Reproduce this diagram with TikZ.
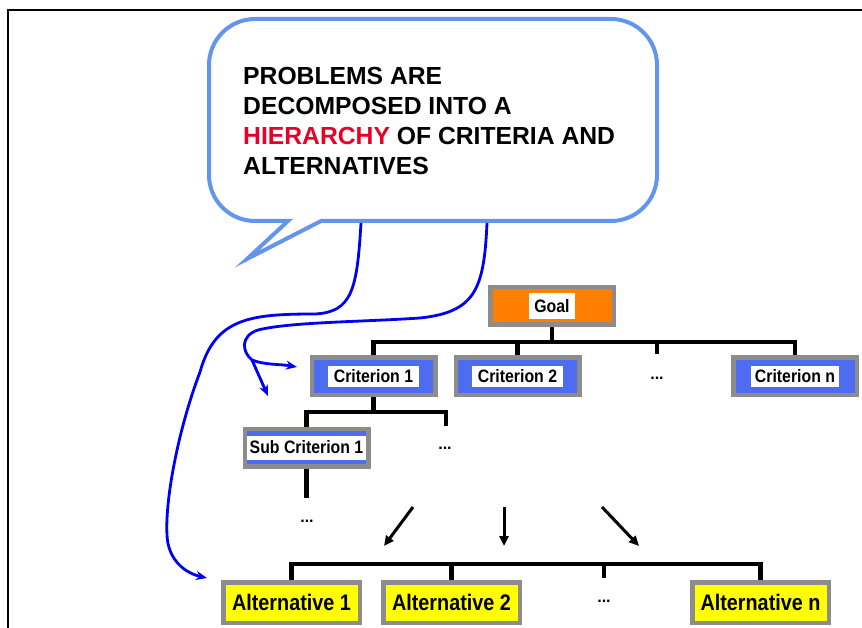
\documentclass[tikz,border=0pt]{standalone}
\usepackage{fontspec}
\setmainfont{Liberation Sans}
\newfontfamily\narrowsans{Liberation Sans}[FakeStretch=0.88]
\usetikzlibrary{arrows.meta}

\definecolor{boxgray}{RGB}{140,140,140}
\definecolor{critblue}{RGB}{78,108,240}
\definecolor{goalorange}{RGB}{255,128,0}
\definecolor{altyellow}{RGB}{255,255,0}
\definecolor{bubbleblue}{RGB}{100,149,237}
\definecolor{linkblue}{RGB}{0,0,245}
\definecolor{hierred}{RGB}{232,0,40}

\newcommand\tagfont{\narrowsans\bfseries\fontsize{18}{21}\selectfont}
\newcommand\dotfont{\bfseries\fontsize{16}{19}\selectfont}
\newcommand\altfont{\narrowsans\bfseries\fontsize{22.5}{26}\selectfont}
\newcommand\bubblefont{\bfseries\fontsize{24.7}{30}\selectfont}

\begin{document}
\begin{tikzpicture}[x=1pt,y=-1pt,
  boxframe/.style={draw=boxgray, line width=4.5pt, inner sep=0pt},
  goalbox/.style={boxframe, fill=goalorange, minimum width=123.5pt, minimum height=37.5pt},
  critbox/.style={boxframe, fill=critblue, minimum width=123.5pt, minimum height=37.5pt},
  altbox/.style={boxframe, fill=altyellow, minimum width=136.5pt, minimum height=40.5pt, font=\altfont},
  tag/.style={fill=white, inner sep=0pt, inner xsep=6pt, minimum height=21pt, font=\tagfont},
  dots/.style={font=\dotfont, inner sep=0pt, anchor=base},
  tree/.style={line width=4.5pt},
  pointer/.style={line width=3pt, -{Triangle[length=10pt,width=9pt]}},
  link/.style={draw=linkblue, line width=2.8pt, -{Stealth[length=11pt,width=9pt]}},
  line/.style={anchor=base west, inner sep=0pt, font=\bubblefont}
]
\useasboundingbox (0,0) rectangle (862,628);

% outer frame (top and left edges)
\draw[line width=2pt] (8,628) -- (8,10) -- (862,10);

% speech bubble with its tail
\draw[draw=bubbleblue, fill=white, line width=4pt, line join=miter]
  (288,221) -- (247,259) -- (321,221) -- (611,221)
  .. controls (636.4,221) and (657,200.4) .. (657,175)
  -- (657,65)
  .. controls (657,39.6) and (636.4,19) .. (611,19)
  -- (255,19)
  .. controls (229.6,19) and (209,39.6) .. (209,65)
  -- (209,175)
  .. controls (209,200.4) and (229.6,221) .. (255,221)
  -- cycle;

\node[line] (l1) at (243,85)  {PROBLEMS ARE};
\node[line] (l2) at (243,115) {DECOMPOSED INTO A};
\node[line] (l3) at (243,145) {\textcolor{hierred}{HIERARCHY} OF CRITERIA AND};
\node[line] (l4) at (243,175) {ALTERNATIVES};

% goal
\node[goalbox] (goal) at (552,306) {};
\node[tag, inner xsep=5pt, minimum height=26pt] (goalt) at (goal) {Goal};

% criteria
\node[critbox] (c1) at (373.5,376) {};
\node[tag] (c1t) at (c1) {Criterion 1};
\node[critbox] (c2) at (517.5,376) {};
\node[tag] (c2t) at (c2) {Criterion 2};
\node[dots] (cdots) at (657,379) {...};
\node[critbox] (cn) at (795,376) {};
\node[tag, inner xsep=4pt] (cnt) at (cn) {Criterion n};

% sub criteria
\node[critbox] (sub) at (306.5,447.5) {};
\node[tag, inner xsep=2.5pt, minimum height=24pt] (subt) at (sub) {Sub Criterion 1};
\node[dots] (sdots) at (445,449) {...};
\node[dots] (ldots) at (307,522) {...};

% alternatives
\node[altbox] (a1) at (291.5,602.5) {Alternative 1};
\node[altbox] (a2) at (451.5,602.5) {Alternative 2};
\node[dots] (adots) at (604,602) {...};
\node[altbox] (an) at (760.5,602.5) {Alternative n};

% hierarchy connectors
\draw[tree] (goal.south) -- ++(0,15) coordinate (gb);
\draw[tree] (c1.north) |- (gb) -| (cn.north);
\draw[tree] (gb -| c2.north) -- (c2.north);
\draw[tree] (gb -| cdots) -- ++(0,12);

\coordinate (sdrop) at (446,426);
\draw[tree] (c1.south) -- ++(0,15) coordinate (cb);
\draw[tree] (sub.north) |- (cb) -| (sdrop);
\draw[tree] (sub.south) -- ++(0,29);

\draw[tree] (a1.north) -- ++(0,-16) coordinate (ab) -| (an.north);
\draw[tree] (ab -| a2.north) -- (a2.north);
\draw[tree] (ab -| adots) -- ++(0,14);

% arrows down to the alternatives
\coordinate (p1s) at (413,507); \coordinate (p1e) at (384,546);
\coordinate (p2s) at (504,507); \coordinate (p2e) at (504,546);
\coordinate (p3s) at (602,507); \coordinate (p3e) at (639,546);
\draw[pointer] (p1s) -- (p1e);
\draw[pointer] (p2s) -- (p2e);
\draw[pointer] (p3s) -- (p3e);

% links from the bubble
\coordinate (ba) at (361,223);
\coordinate (bb) at (487,223);
\coordinate (altin) at (207,578);
\coordinate (critin) at (297,367);
\coordinate (critlow) at (268,396);

\draw[link] (ba) .. controls (357,290) and (352,312) .. (315,314)
  .. controls (250,314) and (215,318) .. (200,372)
  .. controls (178,430) and (165,500) .. (167,535)
  .. controls (168,560) and (185,573) .. (altin);

\draw[draw=linkblue, line width=2.8pt] (bb) .. controls (484,290) and (475,312) .. (420,318)
  .. controls (360,322) and (290,322) .. (258,330)
  .. controls (240,336) and (242,352) .. (252,360) coordinate (fork);
\draw[link] (fork) .. controls (264,365) and (280,364) .. (critin);
\draw[link] (fork) -- (critlow);
\end{tikzpicture}
\end{document}
